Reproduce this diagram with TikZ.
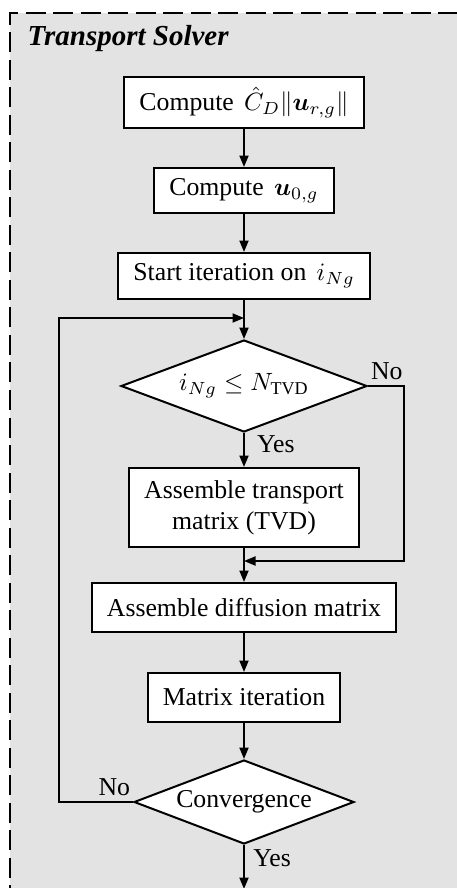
\documentclass[tikz,border=0pt]{standalone}
\usepackage{amsmath}
\usepackage{fontspec}
\setmainfont{Liberation Serif}
\usetikzlibrary{arrows.meta,positioning,shapes.geometric}
\definecolor{panel}{HTML}{E3E3E3}
\newcommand{\mgap}{\hspace{0.4em}}

\tikzset{
  stepbox/.style={draw,line width=0.8pt,fill=white,inner xsep=6pt,minimum height=19.6pt,align=center},
  decision/.style={diamond,draw,line width=0.8pt,fill=white,inner sep=0pt,aspect=2.6},
  arr/.style={line width=0.8pt,-{Triangle[length=4.6pt,width=3.6pt]}},
  lbl/.style={inner sep=1pt},
}

\begin{document}
\begin{tikzpicture}[x=0.4pt,y=-0.4pt,font=\fontsize{10.3}{12.3}\selectfont]
  \useasboundingbox (0,0) rectangle (456,888);

  % Dashed panel
  \fill[panel] (10,13) rectangle (470,905);
  \draw[line width=0.8pt,dash pattern=on 8pt off 3pt] (10,905) -- (10,13) -- (470,13);
  \node[font=\fontsize{11.6}{13}\selectfont\bfseries\itshape,anchor=base west,inner sep=0pt] (title) at (27,45) {Transport Solver};

  % Steps
  \node[stepbox,minimum height=20.4pt] (cd) at (244,102.5) {Compute\mgap$\hat{C}_D\|\boldsymbol{u}_{r,g}\|$};
  \node[stepbox,minimum height=18pt] (u0) at (244,190.5) {Compute\mgap$\boldsymbol{u}_{0,g}$};
  \node[stepbox,minimum height=18.4pt] (start) at (244,276) {Start iteration on\mgap$i_{Ng}$};
  \coordinate (join) at (244,318);
  \node[decision,minimum width=98.4pt,minimum height=36.8pt] (tvdq) at (244,386) {$i_{Ng}\le N_{\mathrm{TVD}}$};
  \node[stepbox,minimum height=31.6pt] (transp) at (244,507.5) {Assemble transport\\matrix (TVD)};
  \coordinate (skip) at (404,386);
  \coordinate (merge) at (244,561);
  \node[stepbox] (diff) at (244,607.5) {Assemble diffusion matrix};
  \node[stepbox] (mit) at (244,697.5) {Matrix iteration};
  \node[decision,minimum width=88pt,minimum height=33.6pt] (conv) at (244,802) {Convergence};
  \coordinate (back) at (59,802);
  \coordinate (done) at (244,889);

  % Connectors
  \draw[arr] (cd) -- (u0);
  \draw[arr] (u0) -- (start);
  \draw[arr] (start) -- (tvdq);
  \draw[arr] (tvdq) -- node[right=1.5pt,pos=0.32] (tvdyes) {Yes} (transp);
  \draw[arr] (tvdq.east) -- (skip) |- (merge);
  \node[lbl,anchor=south west,yshift=1.5pt] (tvdno) at (tvdq.east) {No};
  \draw[arr] (transp) -- (diff);
  \draw[arr] (diff) -- (mit);
  \draw[arr] (mit) -- (conv);
  \draw[arr] (conv) -- node[right=0pt,pos=0.31] (convyes) {Yes} (done);
  \draw[arr] (conv.west) -- (back) |- (join);
  \node[lbl,anchor=south east,yshift=1.5pt] (convno) at (conv.west) {No};
\end{tikzpicture}
\end{document}
